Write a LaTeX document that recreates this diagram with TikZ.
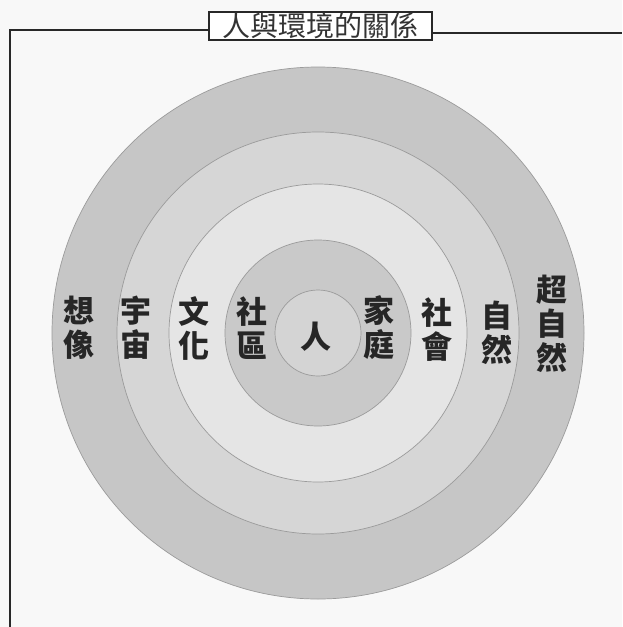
\documentclass[tikz,border=0pt]{standalone}
\usepackage{fontspec}
\newfontfamily\cjk{Noto Sans CJK TC}
\definecolor{paper}{RGB}{248,248,248}
\definecolor{ringA}{RGB}{198,198,198}
\definecolor{ringB}{RGB}{214,214,214}
\definecolor{ringC}{RGB}{229,229,229}
\definecolor{ringD}{RGB}{201,201,201}
\definecolor{ringE}{RGB}{212,212,212}
\definecolor{edge}{RGB}{155,155,155}
\definecolor{framec}{RGB}{40,40,40}
\tikzset{
  ring/.style={circle, draw=edge, line width=0.7pt, inner sep=0pt},
  lab/.style={font=\cjk\bfseries\fontsize{31}{34}\selectfont, align=center, inner sep=0pt, text=black!85},
  frameline/.style={draw=framec, line width=2.4pt},
  titlebox/.style={draw=framec, line width=1.8pt, fill=white, minimum width=223pt, minimum height=28pt, inner sep=0pt, font=\cjk\fontsize{28}{30}\selectfont, text=black!80}
}
\begin{document}
\begin{tikzpicture}[x=1pt,y=-1pt]
\useasboundingbox (0,0) rectangle (622,627);
\fill[paper] (0,0) rectangle (622,627);
% rings
\node[ring, fill=ringA, minimum size=532pt] (r5) at (318,333) {};
\node[ring, fill=ringB, minimum size=402pt] (r4) at (318,333) {};
\node[ring, fill=ringC, minimum size=298pt] (r3) at (318,333) {};
\node[ring, fill=ringD, minimum size=186pt] (r2) at (318,333) {};
\node[ring, fill=ringE, minimum size=86pt] (r1) at (318,333) {};
% labels
\node[lab] (ren) at (316,337) {人};
\node[lab] (shequ) at (252,328) {社\\區};
\node[lab] (wenhua) at (194,328) {文\\化};
\node[lab] (yuzhou) at (136,328) {宇\\宙};
\node[lab] (xiangxiang) at (79,328) {想\\像};
\node[lab] (jiating) at (379,328) {家\\庭};
\node[lab] (shehui) at (437,330) {社\\會};
\node[lab] (ziran) at (497,333) {自\\然};
\node[lab] (chaoziran) at (552,324) {超\\自\\然};
% frame
\coordinate (fl) at (10,627);
\coordinate (ftl) at (10,30);
\coordinate (fr) at (622,33);
\node[titlebox] (title) at (320.5,26) {人與環境的關係};
\draw[frameline] (fl) -- (ftl) -- (title.west |- ftl);
\draw[frameline] (title.east |- fr) -- (fr);
\draw[draw=gray!70, line width=1pt] (fl) -- (622,627);
\end{tikzpicture}
\end{document}
